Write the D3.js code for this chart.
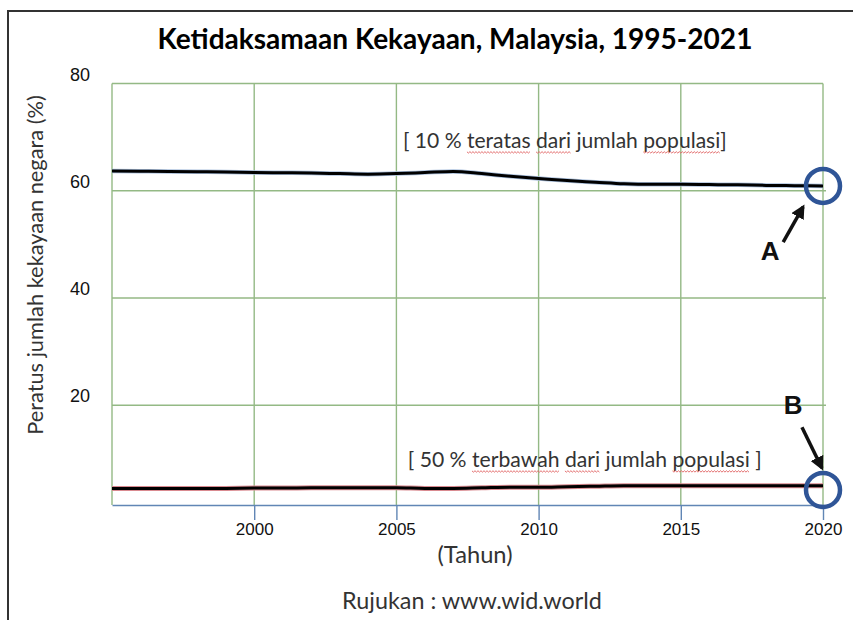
<!DOCTYPE html>
<meta charset="utf-8">
<style>
  body { margin: 0; background: #fff; }
  .grid line { stroke: #94b985; stroke-width: 1.4; }
  .x-axis .domain, .x-axis line { stroke: #6186b5; stroke-width: 1.4; }
  .x-axis text { font-family: "Liberation Sans", Arial, sans-serif; font-size: 17px; fill: #111; }
  .y-axis text { font-family: "Liberation Sans", Arial, sans-serif; font-size: 18px; fill: #111; }
  .note { font-family: Lato, "Open Sans", sans-serif; fill: #333; }
</style>

<svg width="853" height="620"></svg>

<script src="https://d3js.org/d3.v7.min.js"></script>

<script>

// data
var years = [1995, 1996, 1997, 1998, 1999, 2000, 2001, 2002, 2003, 2004, 2005, 2006, 2007,
             2008, 2009, 2010, 2011, 2012, 2013, 2014, 2015, 2016, 2017, 2018, 2019, 2020];
var top10 = [63.7, 63.65, 63.6, 63.55, 63.5, 63.4, 63.35, 63.3, 63.2, 63.1, 63.2, 63.4, 63.6,
             63.2, 62.7, 62.3, 61.9, 61.6, 61.3, 61.2, 61.2, 61.15, 61.1, 61.0, 60.95, 60.9];
var bottom50 = [4.5, 4.5, 4.5, 4.5, 4.5, 4.55, 4.55, 4.6, 4.6, 4.6, 4.6, 4.5, 4.5,
                4.6, 4.7, 4.7, 4.8, 4.9, 5.0, 5.0, 5.0, 5.0, 5.0, 5.0, 5.0, 5.0];
var xTicks = [2000, 2005, 2010, 2015, 2020];
var yTicks = [20, 40, 60, 80];

var svg = d3.select("svg");

var x = d3.scaleLinear().domain([1995, 2020]).range([112, 823]);
var y = d3.scaleLinear().domain([1.4, 80]).range([505, 83.5]);

// frame of the picture
svg.append("path")
    .attr("d", "M8,620V11H853")
    .attr("fill", "none")
    .attr("stroke", "#333")
    .attr("stroke-width", 2);

// grid
var grid = svg.append("g").attr("class", "grid");
grid.selectAll(".v")
  .data([1995].concat(xTicks))
  .enter().append("line")
    .attr("x1", d => x(d)).attr("x2", d => x(d))
    .attr("y1", y(80)).attr("y2", y(1.4));
grid.selectAll(".h")
  .data(yTicks)
  .enter().append("line")
    .attr("x1", x(1995)).attr("x2", d => d == 80 ? x(2020) : x(2020) + 3)
    .attr("y1", d => y(d)).attr("y2", d => y(d));

// x axis
svg.append("g")
    .attr("class", "x-axis")
    .attr("transform", "translate(0," + y(1.4) + ")")
    .call(d3.axisBottom(x).tickValues(xTicks).tickSize(15).tickSizeOuter(0).tickFormat(d3.format("d")));

// y labels (sit a bit above their grid lines)
svg.append("g")
    .attr("class", "y-axis")
  .selectAll("text")
  .data(yTicks)
  .enter().append("text")
    .attr("x", 90)
    .attr("y", d => y(d) - 3)
    .attr("text-anchor", "end")
    .text(d => d);

// lines
var line = d3.line()
    .x((d, i) => x(years[i]))
    .y(d => y(d))
    .curve(d3.curveMonotoneX);

svg.append("path").datum(top10)
    .attr("d", line).attr("fill", "none")
    .attr("stroke", "#a9bfdc").attr("stroke-width", 4.5);
svg.append("path").datum(top10)
    .attr("d", line).attr("fill", "none")
    .attr("stroke", "#000").attr("stroke-width", 3);

svg.append("path").datum(bottom50)
    .attr("d", line).attr("fill", "none")
    .attr("stroke", "#d98a90").attr("stroke-width", 5);
svg.append("path").datum(bottom50)
    .attr("d", line).attr("fill", "none")
    .attr("stroke", "#000").attr("stroke-width", 3);

function fit(t, w) {
  var fs = parseFloat(t.attr("font-size"));
  var len = t.node().getComputedTextLength();
  t.attr("font-size", fs * w / len);
}

// title and axis titles
var title = svg.append("text")
    .attr("x", 455).attr("y", 49)
    .attr("text-anchor", "middle")
    .attr("font-family", "Lato, 'Open Sans', sans-serif")
    .attr("font-weight", "bold")
    .attr("font-size", 27)
    .attr("fill", "#000")
    .text("Ketidaksamaan Kekayaan, Malaysia, 1995-2021");
fit(title, 595);

var ylab = svg.append("text")
    .attr("class", "note")
    .attr("transform", "translate(43,265) rotate(-90)")
    .attr("text-anchor", "middle")
    .attr("font-size", 18)
    .text("Peratus jumlah kekayaan negara (%)");
fit(ylab, 340);

var xlab = svg.append("text")
    .attr("class", "note")
    .attr("x", 475).attr("y", 563)
    .attr("text-anchor", "middle")
    .attr("font-size", 19)
    .text("(Tahun)");
fit(xlab, 75);

var src = svg.append("text")
    .attr("class", "note")
    .attr("x", 472).attr("y", 609)
    .attr("text-anchor", "middle")
    .attr("font-size", 19)
    .text("Rujukan : www.wid.world");
fit(src, 260);

// series notes with the red spell-check squiggles
var notes = [
  { text: "[ 10 % teratas dari jumlah populasi]", x: 2005.23, y: 68.0, w: 324, marked: ["teratas", "dari", "populasi"] },
  { text: "[ 50 % terbawah dari jumlah populasi ]", x: 2005.4, y: 8.5, w: 354, marked: ["terbawah", "dari", "populasi"] }
];

notes.forEach(function(n) {
  var t = svg.append("text")
      .attr("class", "note")
      .attr("x", x(n.x)).attr("y", y(n.y))
      .attr("font-size", 17)
      .text(n.text);
  fit(t, n.w);
  var node = t.node();
  n.marked.forEach(function(word) {
    var i = n.text.indexOf(word);
    var x0 = node.getStartPositionOfChar(i).x;
    var x1 = node.getEndPositionOfChar(i + word.length - 1).x;
    var yy = y(n.y) + 4, p = "M" + x0 + "," + yy, k = 0;
    for (var xx = x0 + 1.5; xx <= x1; xx += 1.5) {
      k++;
      p += "L" + xx + "," + (yy + (k % 2 ? 1.2 : -0.2));
    }
    svg.append("path")
        .attr("d", p)
        .attr("fill", "none")
        .attr("stroke", "#e06060")
        .attr("stroke-width", 0.9);
  });
});

// circles, arrows and letters
var marks = [
  { year: 2020, value: 60.9, label: "A", lx: 2018.14, ly: 47.0, from: [2018.6, 50.4], to: [2019.3, 57.0] },
  { year: 2020, value: 4.2, label: "B", lx: 2018.95, ly: 18.4, from: [2019.26, 15.9], to: [2019.96, 8.3] }
];

svg.append("defs").append("marker")
    .attr("id", "head")
    .attr("viewBox", "0 0 10 10")
    .attr("refX", 8).attr("refY", 5)
    .attr("markerWidth", 4).attr("markerHeight", 4)
    .attr("orient", "auto")
  .append("path")
    .attr("d", "M0,0L10,5L0,10z")
    .attr("fill", "#111");

marks.forEach(function(m) {
  svg.append("circle")
      .attr("cx", x(m.year)).attr("cy", y(m.value))
      .attr("r", 17)
      .attr("fill", "none")
      .attr("stroke", "#2f5597")
      .attr("stroke-width", 4.5);
  svg.append("line")
      .attr("x1", x(m.from[0])).attr("y1", y(m.from[1]))
      .attr("x2", x(m.to[0])).attr("y2", y(m.to[1]))
      .attr("stroke", "#111")
      .attr("stroke-width", 3.5)
      .attr("marker-end", "url(#head)");
  svg.append("text")
      .attr("x", x(m.lx)).attr("y", y(m.ly))
      .attr("text-anchor", "middle")
      .attr("font-family", "'Liberation Sans', Arial, sans-serif")
      .attr("font-weight", "bold")
      .attr("font-size", 26)
      .attr("fill", "#111")
      .text(m.label);
});

</script>
